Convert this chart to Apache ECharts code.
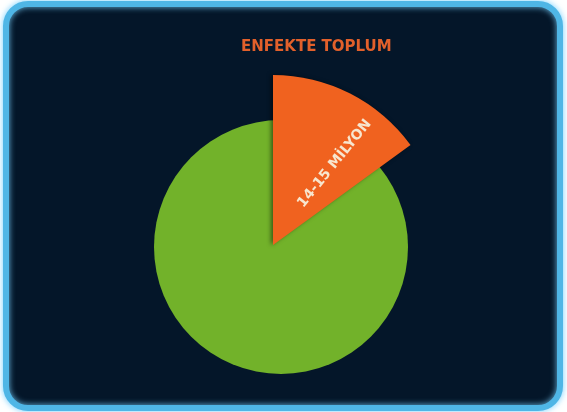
<!DOCTYPE html>
<html>
<head>
<meta charset="utf-8">
<script src="https://cdn.jsdelivr.net/npm/echarts@6/dist/echarts.min.js"></script>
<style>
html,body{margin:0;padding:0;background:#ffffff;}
#c{width:567px;height:412px;}
</style>
</head>
<body>
<div id="c"></div>
<script>
var titleText = "ENFEKTE TOPLUM";
var sliceNames = ["14-15 MİLYON", "Diğer"];
var sliceValues = [15, 85];

var chart = echarts.init(document.getElementById('c'), null, {renderer: 'canvas'});

var orangeData = [
  {name: sliceNames[0], value: sliceValues[0], itemStyle: {color: '#f0621f'},
   label: {show: true}},
  {name: sliceNames[1], value: sliceValues[1], itemStyle: {color: 'rgba(0,0,0,0)', shadowBlur: 0},
   label: {show: false}}
];
// green disc drawn underneath; the orange wedge is laid over it
var greenData = [
  {name: sliceNames[1], value: sliceValues[1], itemStyle: {color: '#72b22a'}}
];

chart.setOption({
  backgroundColor: '#ffffff',
  animation: false,
  title: {
    text: titleText,
    left: 236,
    top: 35,
    textStyle: {
      color: '#e2602b',
      fontSize: 15,
      fontWeight: 'bold',
      fontFamily: 'DejaVu Sans'
    }
  },
  graphic: [
    {
      type: 'rect', z: -10, silent: true,
      shape: {x: 6, y: 4, width: 554, height: 404, r: 22},
      style: {fill: '#041629', stroke: '#4fb6e6', lineWidth: 6,
              shadowBlur: 6, shadowColor: 'rgba(120,210,255,0.9)'}
    }
  ],
  series: [
    {
      type: 'pie',
      center: [281, 247],
      radius: [0, 127],
      startAngle: 90,
      clockwise: true,
      silent: true,
      label: {show: false},
      labelLine: {show: false},
      data: greenData,
      z: 2
    },
    {
      type: 'pie',
      center: [273, 245],
      radius: [0, 170],
      startAngle: 90,
      clockwise: true,
      silent: true,
      labelLine: {show: false},
      itemStyle: {shadowBlur: 4, shadowColor: 'rgba(0,0,0,0.5)', shadowOffsetX: -2},
      label: {
        position: 'inside',
        rotate: 51,
        color: '#f7e6cf',
        fontSize: 14,
        fontWeight: 'bold',
        fontFamily: 'DejaVu Sans',
        formatter: '{b}'
      },
      labelLayout: {dx: 16, dy: 15},
      data: orangeData,
      z: 3
    }
  ]
});
</script>
</body>
</html>
